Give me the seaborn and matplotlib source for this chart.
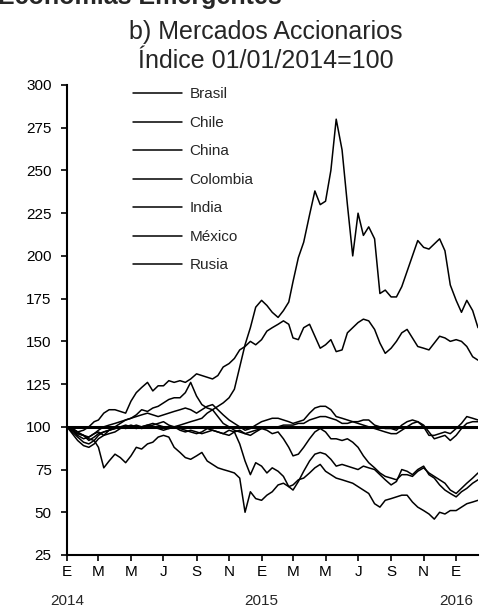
import pandas as pd
import numpy as np
import matplotlib.pyplot as plt
import matplotlib.transforms as mtransforms
import seaborn as sns

sns.set_theme(style='ticks')
plt.rcParams['font.family'] = ['Liberation Sans', 'DejaVu Sans']

# fechas: días 1, 11 y 21 de cada mes, ene-2014 a feb-2016
months = pd.date_range('2014-01-01', '2016-02-01', freq='MS')
dates = [m + pd.Timedelta(days=d) for m in months for d in (0, 10, 20)][:77]

# valores (índice 01/01/2014 = 100)
brasil = [100, 99, 97, 95, 92, 94, 96, 97, 98, 99, 100, 101,
          100, 99, 100, 101, 100, 99, 98, 99, 100, 98, 97, 98,
          97, 96, 97, 98, 97, 96, 98, 97, 90, 80, 72, 79,
          77, 73, 76, 74, 71, 65, 63, 68, 74, 80, 84, 85,
          84, 81, 77, 78, 77, 76, 75, 77, 76, 75, 72, 69,
          66, 68, 75, 74, 72, 75, 77, 72, 70, 66, 63, 61,
          59, 62, 64, 67, 69]
chile = [100, 98, 95, 93, 94, 96, 98, 100, 101, 102, 103, 104,
         105, 106, 107, 108, 107, 106, 107, 108, 109, 110, 111, 110,
         108, 110, 112, 113, 110, 107, 104, 102, 100, 98, 99, 101,
         103, 104, 105, 105, 104, 103, 102, 103, 104, 108, 111, 112,
         112, 110, 106, 105, 104, 103, 103, 104, 104, 101, 100, 99,
         99, 98, 101, 103, 104, 103, 100, 95, 95, 96, 97, 96,
         99, 102, 106, 105, 104]
china = [100, 98, 96, 95, 94, 96, 97, 95, 98, 100, 102, 104,
         105, 107, 110, 109, 111, 112, 114, 116, 117, 117, 120, 126,
         118, 113, 111, 110, 112, 114, 117, 122, 135, 148, 158, 170,
         174, 171, 167, 164, 168, 173, 185, 199, 208, 224, 238, 230,
         232, 250, 280, 262, 230, 200, 225, 212, 217, 210, 178, 180,
         176, 176, 182, 191, 200, 209, 205, 204, 207, 210, 203, 183,
         174, 167, 174, 168, 158]
colombia = [100, 96, 92, 89, 88, 90, 93, 95, 96, 97, 99, 100,
            101, 100, 99, 100, 101, 102, 103, 101, 100, 99, 98, 97,
            96, 97, 99, 98, 97, 96, 95, 97, 98, 96, 97, 98,
            99, 98, 96, 97, 93, 88, 83, 84, 88, 93, 97, 99,
            97, 93, 93, 92, 93, 91, 88, 83, 79, 76, 73, 71,
            70, 69, 72, 72, 71, 74, 76, 73, 71, 69, 67, 63,
            61, 64, 67, 70, 73]
india = [100, 99, 97, 98, 100, 103, 104, 108, 110, 110, 109, 108,
         115, 120, 123, 126, 121, 124, 124, 127, 126, 127, 126, 128,
         131, 130, 129, 128, 130, 135, 137, 140, 145, 147, 150, 148,
         151, 156, 158, 160, 162, 160, 152, 151, 158, 160, 153, 146,
         148, 151, 144, 145, 155, 158, 161, 163, 162, 157, 149, 143,
         146, 150, 155, 157, 152, 147, 146, 145, 149, 153, 152, 150,
         151, 150, 147, 141, 139]
mexico = [100, 97, 94, 91, 90, 92, 95, 97, 98, 99, 100, 99,
          100, 101, 100, 101, 102, 101, 100, 99, 100, 101, 102, 103,
          104, 105, 108, 110, 106, 102, 100, 98, 97, 96, 95, 97,
          99, 100, 100, 100, 101, 101, 101, 102, 102, 104, 105, 106,
          106, 105, 104, 102, 102, 103, 102, 101, 100, 99, 98, 97,
          96, 96, 98, 100, 102, 103, 101, 97, 93, 94, 95, 92,
          95, 99, 102, 103, 103]
rusia = [100, 98, 96, 95, 93, 92, 88, 76, 80, 84, 82, 79,
         83, 88, 87, 90, 91, 94, 95, 94, 88, 85, 82, 81,
         83, 85, 80, 78, 76, 75, 74, 73, 70, 50, 62, 58,
         57, 60, 62, 66, 67, 65, 66, 69, 70, 73, 76, 78,
         74, 72, 70, 69, 68, 67, 65, 63, 61, 55, 53, 57,
         58, 59, 60, 60, 56, 53, 51, 49, 46, 50, 49, 51,
         51, 53, 55, 56, 57]

series = {'Brasil': brasil, 'Chile': chile, 'China': china, 'Colombia': colombia,
          'India': india, 'México': mexico, 'Rusia': rusia}

df = pd.concat([pd.DataFrame({'fecha': dates, 'indice': v, 'pais': k})
                for k, v in series.items()], ignore_index=True)

fig = plt.figure(figsize=(4.82, 6.14), dpi=100)
ax = fig.add_axes([67 / 482, 59 / 614, 411 / 482, 470 / 614])

ax.axhline(100, color='black', lw=2.2, zorder=1)
sns.lineplot(data=df, x='fecha', y='indice', hue='pais',
             palette={k: 'black' for k in series}, linewidth=1.1,
             estimator=None, sort=False, ax=ax, zorder=2)

ax.set_ylim(25, 300)
ax.set_xlim(pd.Timestamp('2014-01-01'), pd.Timestamp('2016-02-11'))
ax.set_yticks(range(25, 301, 25))
xt = pd.date_range('2014-01-01', '2016-01-01', freq='2MS')
ax.set_xticks(xt)
ax.set_xticklabels(['E', 'M', 'M', 'J', 'S', 'N'] * 2 + ['E'])
ax.set_xlabel('')
ax.set_ylabel('')
ax.tick_params(axis='both', labelsize=11, colors='black', direction='out',
               length=4, width=1.2)
ax.tick_params(axis='y', pad=7)
ax.tick_params(axis='x', pad=3)
sns.despine(ax=ax)
for s in ('left', 'bottom'):
    ax.spines[s].set_linewidth(1.5)
    ax.spines[s].set_color('black')

trans = mtransforms.blended_transform_factory(ax.transData, ax.transAxes)
for yr in ('2014', '2015', '2016'):
    ax.text(pd.Timestamp(f'{yr}-01-01'), -0.106, yr, transform=trans,
            ha='center', va='baseline', fontsize=11)

handles, labels = ax.get_legend_handles_labels()
ax.legend(handles, labels, loc='upper left', bbox_to_anchor=(0.16, 0.995),
          frameon=False, fontsize=11, handlelength=3.2, handletextpad=0.5,
          labelspacing=0.95, borderpad=0, borderaxespad=0)

fig.text(0.551, 1 - 39 / 614, 'b) Mercados Accionarios', ha='center',
         va='baseline', fontsize=18)
fig.text(0.551, 1 - 68 / 614, 'Índice 01/01/2014=100', ha='center',
         va='baseline', fontsize=18)
fig.text(-0.004, 1 - 4 / 614, 'Economías Emergentes', ha='left',
         va='baseline', fontsize=18, fontweight='bold')

fig.savefig('out.png', dpi=100)
